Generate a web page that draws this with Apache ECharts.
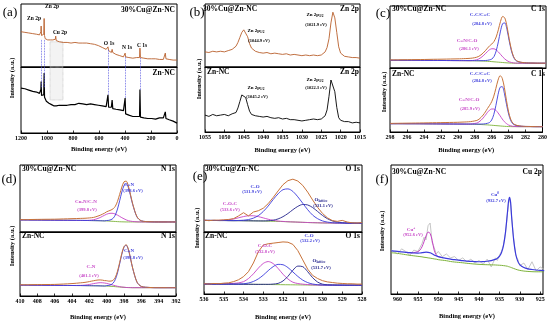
<!DOCTYPE html>
<html>
<head>
<meta charset="utf-8">
<script src="https://cdn.jsdelivr.net/npm/echarts/dist/echarts.min.js"></script>
<style>
  html, body { margin: 0; padding: 0; background: #fff; }
  #xps { width: 550px; height: 322px; }
</style>
</head>
<body>
<div id="xps"></div>
<script>
// ---- (a) survey ----
const aE = [1200,1185,1170,1155,1140,1125,1110,1095,1080,1068,
  1058,1050,1047,1045,1042,1036,1030,1025,1022,1019,
  1014,1005,995,985,975,965,955,950,945,936,
  933,929,920,905,890,875,860,845,830,815,
  800,785,770,755,740,725,710,695,680,665,
  650,635,620,605,590,575,560,545,536,531,
  526,515,505,499,494,485,470,455,440,425,
  412,403,399,395,385,370,355,340,325,310,
  296,288,285,281,270,255,240,225,210,195,
  180,165,150,135,120,105,95,90,85,75,
  60,45,30,15,0];
const aCuZn = [56,57,55,56,54,55,53,54,52,53,
  51,52,56,65,50,51,49,52,77,50,
  45,44,43,44,43,42,43,45,42,44,
  49,42,41,40,40,39,40,39,39,38,
  38,39,38,38,37,38,37,38,38,37,
  36,36,35,34,33,31,30,28,27,32,
  26,24,23,28,23,21,20,19,18,17,
  16,17,22,16,15,15,15,14,15,15,
  14,15,30,15,14,14,14,13,14,13,
  13,13,13,12,13,12,13,22,13,12,
  12,11,11,11,11];
const aZn = [68,66,67,64,65,62,63,61,62,59,
  60,58,66,78,57,55,56,58,91,54,
  52,48,47,45,44,43,41,43,41,42,
  40,41,40,42,41,42,43,42,44,43,
  45,43,44,45,43,44,42,43,45,44,
  42,43,41,42,40,41,39,40,39,58,
  39,38,39,50,37,37,36,35,35,33,
  34,32,53,29,27,27,26,25,26,25,
  24,25,66,24,24,23,24,22,23,22,
  22,21,22,23,22,23,24,32,22,21,
  20,19,18,17,15];
const aGuideE = [1045, 1022, 531, 400, 285];
const aGuideTop = [43, 43, 27, 16, 14];
const aGuideBot = [68, 68, 58, 53, 65];
const aBand = [977, 877];

// ---- (b) Zn 2p ----
const bE = [1055,1054,1053,1052,1051,1050,1049,1048,1047,1046.5,
  1046,1045.5,1045,1044.5,1044,1043.5,1043,1042,1041,1040,
  1039,1038,1037,1036,1035,1034,1033,1032,1031,1030,
  1029,1028,1027,1026,1025,1024.5,1024,1023.5,1023,1022.5,
  1022,1021.5,1021,1020.5,1020,1019.5,1019,1018,1017,1016,1015];
const bCuZn = [24,23,25,24,25,24,26,28,33,39,
  47,55,59,56,48,37,30,25,23,22,
  23,21,22,21,20,21,19,20,19,18,
  19,18,19,18,19,21,24,31,45,70,
  87,78,55,32,22,19,17,16,15,15,14];
const bZn = [26,24,27,25,26,27,25,28,30,37,
  47,57,60,53,42,32,27,25,24,23,
  24,22,21,22,20,21,19,19,18,17,
  18,19,20,19,20,22,25,34,55,80,
  80,62,38,22,18,17,16,16,14,15,14];

// ---- (c) C 1s ----
const cE = [298,297,296,295,294,293,292,291,290,289.5,289,288.5,288,287.75,287.5,287.25,287,286.75,286.5,286.25,
  286,285.75,285.5,285.25,285,284.75,284.5,284.25,284,283.75,283.5,283.25,283,282.5,282,281.5,281,280.5,280];
const cCuBase = [13.0,13.0,12.9,12.9,12.8,12.7,12.6,12.5,12.4,12.3,12.2,12.1,12.0,11.9,11.8,11.6,11.4,11.2,11.0,10.7,
  10.4,10.1,9.8,9.5,9.2,8.9,8.6,8.4,8.2,8.1,8.0,8.0,8.0,8.0,8.0,8.0,8.0,8.0,8.0];
const cCuCC = [13.0,13.0,12.9,12.9,12.8,12.7,12.6,12.5,12.4,12.4,12.4,12.4,12.3,12.3,12.3,12.4,12.5,12.9,13.7,15.1,
  19.2,28.5,43.8,61.9,74.5,75.5,64.4,45.8,29.3,18.3,12.8,10.7,9.7,8.8,8.4,8.3,8.0,8.0,8.0];
const cCuCN = [13.0,13.0,12.9,12.9,12.8,12.7,12.6,12.5,12.4,12.4,12.3,12.5,13.8,15.2,17.5,20.4,23.9,27.7,30.8,32.3,
  32.2,30.3,27.0,22.9,18.7,15.1,12.3,10.4,9.3,8.5,8.2,8.1,8.0,8.0,8.0,8.0,8.0,8.0,8.0];
const cCuEnv = [13.5,13.7,13.9,14.1,14.3,14.6,14.8,15.1,15.4,15.7,16.0,16.6,18.1,19.6,22.0,25.2,29.0,33.3,37.3,40.3,
  44.5,52.0,64.1,78.1,86.5,83.8,69.8,49.1,31.4,19.4,13.5,11.2,10.0,8.9,8.4,8.3,8.1,8.0,8.0];
const cZnBase = [14.0,14.0,13.9,13.9,13.8,13.7,13.6,13.5,13.4,13.3,13.2,13.1,13.0,12.9,12.8,12.6,12.4,12.2,12.0,11.7,
  11.4,11.1,10.8,10.5,10.2,9.9,9.6,9.4,9.2,9.1,9.0,9.0,9.0,9.0,9.0,9.0,9.0,9.0,9.0];
const cZnCC = [14.0,14.0,13.9,13.9,13.8,13.7,13.6,13.5,13.4,13.4,13.4,13.4,13.3,13.3,13.3,13.4,13.5,13.9,14.7,16.1,
  20.2,29.5,44.8,62.9,75.5,76.5,65.4,46.8,30.3,19.3,13.8,11.7,10.7,9.8,9.4,9.3,9.0,9.0,9.0];
const cZnCN = [14.0,14.0,13.9,13.9,13.8,13.7,13.6,13.5,13.4,13.4,13.3,13.4,14.4,15.1,17.0,19.9,23.6,28.2,33.0,36.9,
  38.8,38.8,36.6,32.3,27.3,21.9,17.4,14.2,11.7,10.5,9.6,9.3,9.1,9.0,9.0,9.0,9.0,9.0,9.0];
const cZnEnv = [14.5,14.7,14.9,15.1,15.3,15.6,15.8,16.1,16.4,16.7,17.0,17.5,18.7,19.5,21.5,24.7,28.7,33.8,39.5,44.9,
  51.1,60.5,73.7,87.5,95.1,90.6,74.9,52.9,33.8,21.4,14.9,12.4,11.1,9.9,9.4,9.3,9.1,9.0,9.0];

// ---- (d) N 1s ----
const dE = [410,409,408,407,406,405,404,403,402.5,402,401.5,401,400.75,400.5,400.25,400,399.75,399.5,399.25,399,
  398.75,398.5,398.25,398,397.75,397.5,397.25,397,396.5,396,395,394,393,392];
const dCuBase = [18,17.9,17.8,17.7,17.6,17.5,17.4,17.3,17.2,17.1,17.0,16.9,16.8,16.7,16.6,16.5,16.3,16.1,15.9,15.7,
  15.5,15.3,15.2,15.1,15.0,15.0,15.0,15.0,15.0,15.0,15.0,15.0,15.0,15.0];
const dCuCN = [18,17.9,17.8,17.7,17.6,17.5,17.4,17.3,17.2,17.1,17.0,16.9,16.8,16.7,16.6,17.1,17.4,18.4,20.5,25.4,
  34.3,46.7,59.7,69.3,72.0,66.3,54.3,41.2,22.4,16.7,15.3,15.0,15.0,15.0];
const dCuCuN = [18,17.9,17.8,17.7,17.6,17.5,17.4,17.3,17.3,17.5,18.3,20.3,21.6,23.3,25.0,26.6,27.6,28.0,27.8,26.7,
  25.2,23.3,21.4,19.7,18.1,16.9,16.2,15.7,15.2,15.0,15.0,15.0,15.0,15.0];
const dCuEnv = [18.5,18.6,18.8,19.0,19.1,19.5,19.9,20.3,20.5,21.0,21.8,23.8,25.0,26.5,28.1,30.2,31.5,32.8,34.7,38.4,
  45.8,56.2,67.1,74.9,75.9,68.8,55.9,42.2,22.7,16.7,15.3,15.0,15.0,15.0];
const dZnBase = [17,16.9,16.8,16.7,16.6,16.5,16.4,16.3,16.2,16.1,16.0,15.9,15.8,15.7,15.6,15.5,15.3,15.1,14.9,14.6,
  14.3,14.0,13.7,13.5,13.3,13.2,13.1,13.0,13.0,13.0,13.0,13.0,13.0,13.0];
const dZnCN = [17,16.9,16.8,16.7,16.6,16.5,16.4,16.3,16.2,16.1,16.0,15.9,15.8,15.7,15.6,16.2,16.6,17.7,20.2,25.8,
  36.1,50.3,65.2,76.2,79.3,72.6,58.6,43.4,21.6,15.0,13.3,13.0,13.0,13.0];
const dZnCN2 = [17,16.9,16.8,16.7,16.6,16.5,16.4,16.6,17.0,18.0,19.4,20.5,20.8,20.7,20.3,19.7,18.8,17.9,16.9,16.0,
  15.2,14.6,14.0,13.7,13.3,13.2,13.1,13.0,13.0,13.0,13.0,13.0,13.0,13.0];
const dZnEnv = [17.5,17.6,17.8,17.9,18.1,18.7,19.4,20.6,21.3,22.5,23.9,25.0,25.1,24.8,24.1,23.9,23.2,23.3,24.6,29.2,
  38.8,52.4,66.7,77.4,80.1,73.2,59.0,43.7,21.7,15.0,13.3,13.0,13.0,13.0];

// ---- (e) O 1s ----
const eE = [536,535.75,535.5,535.25,535,534.75,534.5,534.25,534,533.75,533.5,533.25,533,532.75,532.5,532.25,532,
  531.75,531.5,531.25,531,530.75,530.5,530.25,530,529.75,529.5,529.25,529,528.75,528.5,528.25,528];
const eCuBase = [18.0,18.0,17.9,17.8,17.8,17.7,17.6,17.6,17.5,17.4,17.3,17.2,17.0,16.8,16.6,16.4,16.2,
  15.9,15.6,15.3,15.0,14.7,14.5,14.3,14.1,14.0,13.9,13.8,13.8,13.7,13.7,13.6,13.6];
const eCuCO = [18.0,18.0,17.9,17.8,17.8,17.7,17.7,17.9,18.3,19.3,21.5,25.4,31.8,40.3,50.3,59.2,65.7,
  66.9,63.0,54.6,44.6,34.6,26.2,20.7,17.2,15.4,14.4,14.0,13.9,13.7,13.7,13.6,13.6];
const eCuOL = [18.0,18.0,17.9,17.8,17.8,17.7,17.6,17.6,17.5,17.4,17.3,17.2,17.2,17.5,18.3,20.3,23.8,
  28.7,34.6,39.8,42.7,42.0,38.0,31.9,25.7,20.6,17.2,15.3,14.4,13.9,13.8,13.6,13.6];
const eCuCOC = [18.0,18.0,17.9,18.0,18.3,19.0,20.2,22.1,23.9,25.2,25.2,23.9,21.9,19.8,18.1,17.0,16.4,
  15.9,15.6,15.3,15.0,14.7,14.5,14.3,14.1,14.0,13.9,13.8,13.8,13.7,13.7,13.6,13.6];
const eCuEnv = [18.5,17.6,18.4,18.4,18.9,19.5,20.8,25.0,30.0,25.0,31.0,33.0,36.9,44.0,53.5,63.7,73.5,
  79.7,82.0,79.1,72.3,61.9,49.7,38.3,28.8,22.0,17.7,16.5,18.0,15.5,14.2,13.9,14.5];
const eZnBase = [16.0,16.0,16.0,15.9,15.9,15.9,15.8,15.8,15.7,15.7,15.6,15.5,15.4,15.3,15.2,15.1,15.0,
  14.9,14.8,14.7,14.6,14.5,14.4,14.4,14.3,14.3,14.3,14.2,14.2,14.2,14.2,14.2,14.2];
const eZnCOC = [16.2,16.2,16.3,16.3,16.5,16.6,17.1,18.0,19.9,24.9,32.5,41.7,49.3,52.3,49.1,41.3,31.9,
  24.2,19.0,16.9,15.9,15.2,14.8,14.5,14.4,14.3,14.3,14.2,14.2,14.2,14.2,14.2,14.2];
const eZnCO = [16.0,16.0,16.0,15.9,15.9,15.9,15.9,16.0,16.5,17.7,20.2,24.4,30.4,37.7,44.1,47.8,47.2,
  42.6,35.6,28.4,22.4,18.4,16.1,15.0,14.5,14.3,14.3,14.2,14.2,14.2,14.2,14.2,14.2];
const eZnOL = [16.0,16.0,16.0,15.9,15.9,15.9,15.8,15.8,15.7,15.7,15.6,15.5,15.6,15.6,16.0,17.1,21.0,
  28.5,38.3,45.0,44.1,36.0,26.3,19.3,15.9,14.9,14.6,14.4,14.3,14.2,14.2,14.2,14.2];
const eZnEnv = [16.5,16.0,17.0,16.5,17.5,18.0,20.0,23.0,28.0,36.0,50.0,68.0,79.0,81.0,82.0,83.0,84.0,
  83.5,80.0,70.0,55.0,40.0,30.0,25.0,21.5,19.5,18.5,17.5,17.0,16.5,16.5,16.0,16.0];

// ---- (f) Cu 2p ----
const fE = [961.5,960,959,958,957,956,955,954.5,954,953.5,953,952.5,952,951.5,951,950.5,950,949,948,947,
  946,945,944,943,942,941,940,939,938,937,936,935.5,935,934.5,934,933.5,933,932.75,932.5,932.25,
  932,931.5,931,930.5,930,929,928,927,926,925,924];
const fBase = [32,31.5,31,30.5,30,29.6,29.2,29,28.8,28.5,28.3,28,27.8,27.5,27.2,27,26.6,26.2,25.8,25.2,
  24.8,24.5,24.2,23.8,23.5,23.2,23,22.8,22.7,22.6,22.5,22.4,22.3,22.2,22,21.8,21.5,21.2,21,20.7,
  20.4,19.8,19.2,18.7,18.3,17.8,17.5,17.3,17.2,17.2,17.2];
const fCu0 = [33.5,33,32.6,32.3,32,31.8,31.7,31.8,32,32.2,32.4,32.3,32,31.2,30.3,29.6,29,28.2,27.6,27,
  26.6,26.2,25.8,25.5,25.3,25.1,25,25.1,25.4,25.9,26.8,27.7,29.2,32,37.5,48,64,72,75,71,
  60,42,31,25.5,22.8,20.5,19.5,19,18.6,18.3,18.1];
const fRaw = [34,31,35,33,30,34,33,36,39,44,42,53,55,40,36,31,33,29,31,28,
  29,26,28,25,27,24,26,23,27,21,28,26,30,33,38,47,63,70,74,70,
  59,43,30,27,22,24,19,25,18,21,19];
const fPlusE = [958,957,956,955,954.5,954,953.5,953,952.5,952,951.5,951,950.5,950,949];
const fPlus = [32.3,32,32.1,32.8,34,36.5,40.5,45,48,47,41.5,34,30.2,29,28.2];
const fTicks = [925,930,935,940,945,950,955,960];

const SERIF = '"Liberation Serif","Times New Roman","DejaVu Serif",serif';
const ORANGE = '#c8733a', BROWN = '#b9602c', BLUE = '#3b3bdc', NAVY = '#23238c',
      MAG = '#c643c6', GREEN = '#7db23a', GREY = '#b8b8b8';

function pairs(xs, ys) { return xs.map((x, i) => [x, ys[i]]); }

function line(idx, xs, ys, color, width, smooth, extra) {
  return Object.assign({
    type: 'line', xAxisIndex: idx, yAxisIndex: idx,
    data: pairs(xs, ys), showSymbol: false, symbol: 'none',
    smooth: smooth ? 0.3 : false, silent: true, animation: false,
    lineStyle: { color: color, width: width }, itemStyle: { color: color }
  }, extra || {});
}

const grids = [
  { left: 21, top: 4, width: 156, height: 63 },
  { left: 21, top: 67, width: 156, height: 66 },
  { left: 205, top: 4, width: 155, height: 63 },
  { left: 205, top: 67, width: 155, height: 65 },
  { left: 390, top: 6, width: 156, height: 62 },
  { left: 390, top: 68, width: 156, height: 64 },
  { left: 20, top: 165, width: 156, height: 67 },
  { left: 20, top: 232, width: 156, height: 64 },
  { left: 204, top: 165, width: 158, height: 67 },
  { left: 204, top: 232, width: 158, height: 63 },
  { left: 391, top: 165, width: 152, height: 129 }
].map(g => Object.assign({ show: true, borderColor: '#000', borderWidth: 1 }, g));

function xa(i, min, max, interval, labels, gap) {
  return {
    gridIndex: i, type: 'value', inverse: true, min: min, max: max, interval: interval,
    splitLine: { show: false },
    axisLine: { show: true, onZero: false, lineStyle: { color: '#000', width: 1 } },
    axisTick: { show: labels, inside: true, length: 2.5, lineStyle: { color: '#000', width: 0.8 } },
    axisLabel: { show: labels, fontSize: 6, fontWeight: 'bold', fontFamily: SERIF, color: '#000', margin: 2.5,
      formatter: v => String(v) },
    name: labels ? 'Binding energy (eV)' : '', nameLocation: 'middle', nameGap: gap,
    nameTextStyle: { fontSize: 6.5, fontWeight: 'bold', fontFamily: SERIF, color: '#000' }
  };
}
function ya(i, max) { return { gridIndex: i, type: 'value', min: 0, max: max, show: false }; }

const fAxis = xa(10, 924.3, 961.6, undefined, true, 19);
fAxis.axisLabel.customValues = fTicks;
fAxis.axisTick.customValues = fTicks;

const xAxes = [
  xa(0, 0, 1200, 200, false), xa(1, 0, 1200, 200, true, 13),
  xa(2, 1015, 1055, 5, false), xa(3, 1015, 1055, 5, true, 15),
  xa(4, 280, 298, 2, false), xa(5, 280, 298, 2, true, 15),
  xa(6, 392, 410, 2, false), xa(7, 392, 410, 2, true, 18),
  xa(8, 528, 536, 1, false), xa(9, 528, 536, 1, true, 20),
  fAxis
];
const yAxes = [ya(0, 100), ya(1, 100), ya(2, 100), ya(3, 100), ya(4, 104), ya(5, 108),
  ya(6, 100), ya(7, 100), ya(8, 104), ya(9, 100), ya(10, 100)];

const guideStyle = { type: 'dotted', color: '#5050e0', width: 0.8 };
const bandStyle = { color: 'rgba(200,200,200,0.22)', borderColor: '#aaa', borderWidth: 0.6, borderType: 'dotted' };

const series = [
  line(0, aE, aCuZn, BROWN, 0.9, false, {
    markLine: { silent: true, animation: false, symbol: ['none', 'none'], label: { show: false }, lineStyle: guideStyle,
      data: aGuideE.map((e, i) => [{ coord: [e, aGuideTop[i]] }, { coord: [e, 0] }]) },
    markArea: { silent: true, itemStyle: bandStyle, data: [[{ coord: [aBand[0], 40] }, { coord: [aBand[1], 0] }]] }
  }),
  line(1, aE, aZn, '#000', 1.2, false, {
    markLine: { silent: true, animation: false, symbol: ['none', 'none'], label: { show: false }, lineStyle: guideStyle,
      data: aGuideE.map((e, i) => [{ coord: [e, 100] }, { coord: [e, aGuideBot[i]] }]) },
    markArea: { silent: true, itemStyle: bandStyle, data: [[{ coord: [aBand[0], 100] }, { coord: [aBand[1], 50] }]] }
  }),
  line(2, bE, bCuZn, BROWN, 0.9),
  line(3, bE, bZn, '#000', 0.9),

  line(4, cE, cCuBase, GREEN, 0.9, true),
  line(4, cE, cCuCN, MAG, 0.9, true),
  line(4, cE, cCuCC, BLUE, 0.9, true),
  line(4, cE, cCuEnv, ORANGE, 1, true),
  line(5, cE, cZnBase, GREEN, 0.9, true),
  line(5, cE, cZnCN, MAG, 0.9, true),
  line(5, cE, cZnCC, BLUE, 0.9, true),
  line(5, cE, cZnEnv, ORANGE, 1, true),

  line(6, dE, dCuBase, GREEN, 0.9, true),
  line(6, dE, dCuCuN, MAG, 0.9, true),
  line(6, dE, dCuCN, BLUE, 0.9, true),
  line(6, dE, dCuEnv, ORANGE, 1, true),
  line(7, dE, dZnBase, GREEN, 0.9, true),
  line(7, dE, dZnCN2, MAG, 0.9, true),
  line(7, dE, dZnCN, BLUE, 0.9, true),
  line(7, dE, dZnEnv, ORANGE, 1, true),

  line(8, eE, eCuBase, GREEN, 0.9, true),
  line(8, eE, eCuCOC, MAG, 0.9, true),
  line(8, eE, eCuOL, NAVY, 0.9, true),
  line(8, eE, eCuCO, BLUE, 0.9, true),
  line(8, eE, eCuEnv, ORANGE, 1, false),
  line(9, eE, eZnBase, GREEN, 0.9, true),
  line(9, eE, eZnCOC, MAG, 0.9, true),
  line(9, eE, eZnOL, NAVY, 0.9, true),
  line(9, eE, eZnCO, BLUE, 0.9, true),
  line(9, eE, eZnEnv, ORANGE, 1, false),

  line(10, fE, fRaw, GREY, 0.8, false),
  line(10, fE, fBase, GREEN, 1, true),
  line(10, fPlusE, fPlus, MAG, 1, true),
  line(10, fE, fCu0, BLUE, 1.2, true)
];

// text helpers
function txt(x, y, text, size, color, align, weight) {
  return { type: 'text', x: x, y: y, silent: true, z: 50,
    style: { text: text, fontSize: size, fontFamily: SERIF, fontWeight: weight || 'bold',
      fill: color || '#000', align: align || 'center', verticalAlign: 'middle' } };
}
function rich(x, y, main, sub, pos, size, color) {
  const s = size || 5;
  return { type: 'text', x: x, y: y, silent: true, z: 50,
    style: { text: '{m|' + main + '}{s|' + sub + '}', align: 'center', verticalAlign: 'middle',
      rich: {
        m: { fontSize: s, fontFamily: SERIF, fontWeight: 'bold', fill: color || '#000', lineHeight: s + 2 },
        s: { fontSize: s * 0.7, fontFamily: SERIF, fontWeight: 'bold', fill: color || '#000',
             verticalAlign: pos, lineHeight: s + 2 }
      } } };
}
function ytitle(x, y) {
  return { type: 'text', x: x, y: y, rotation: Math.PI / 2, silent: true, z: 50,
    style: { text: 'Intensity (a.u.)', fontSize: 6.5, fontFamily: SERIF, fontWeight: 'bold',
      fill: '#000', align: 'center', verticalAlign: 'middle' } };
}

const graphics = [
  txt(10, 13, '(a)', 13, '#000', 'center', 'normal'),
  txt(197, 13, '(b)', 13, '#000', 'center', 'normal'),
  txt(383, 14, '(c)', 13, '#000', 'center', 'normal'),
  txt(9, 180, '(d)', 13, '#000', 'center', 'normal'),
  txt(200, 177, '(e)', 13, '#000', 'center', 'normal'),
  txt(382, 180, '(f)', 13, '#000', 'center', 'normal'),

  ytitle(12, 78), ytitle(199, 79), ytitle(384, 92),
  ytitle(12, 246), ytitle(197, 228), ytitle(382, 231),

  // (a)
  txt(175, 10, '30%Cu@Zn-NC', 7.5, '#000', 'right'),
  txt(175, 73, 'Zn-NC', 7.5, '#000', 'right'),
  txt(34, 19, 'Zn 2p', 5.5), txt(52, 7, 'Zn 2p', 5.5), txt(60, 33, 'Cu 2p', 5.5),
  txt(109, 44, 'O 1s', 5.5), txt(127, 48, 'N 1s', 5.5), txt(142, 46, 'C 1s', 5.5),

  // (b)
  txt(203, 9, '30%Cu@Zn-NC', 7.5, '#000', 'left'),
  txt(359, 9, 'Zn 2p', 7.5, '#000', 'right'),
  txt(207, 72, 'Zn-NC', 7.5, '#000', 'left'),
  txt(359, 72, 'Zn 2p', 7.5, '#000', 'right'),
  rich(315, 15, 'Zn 2p', '3/2', 'bottom'), txt(316, 24.5, '(1021.9 eV)', 4.5),
  rich(256, 30.5, 'Zn 2p', '1/2', 'bottom'), txt(259, 40.5, '(1044.9 eV)', 4.5),
  rich(256, 87.5, 'Zn 2p', '1/2', 'bottom'), txt(257, 97, '(1045.2 eV)', 4.5),
  rich(315, 79.5, 'Zn 2p', '3/2', 'bottom'), txt(316, 88, '(1022.3 eV)', 4.5),

  // (c)
  txt(392, 9, '30%Cu@Zn-NC', 7.5, '#000', 'left'),
  txt(545, 9, 'C 1s', 7.5, '#000', 'right'),
  txt(392, 74, 'Zn-NC', 7.5, '#000', 'left'),
  txt(545, 74, 'C 1s', 7.5, '#000', 'right'),
  txt(480, 15, 'C-C/C=C', 5, BLUE), txt(482, 24, '(284.8 eV)', 4.5, BLUE),
  txt(467, 40.5, 'C=N/C-O', 5, MAG), txt(469, 49, '(286.1 eV)', 4.5, MAG),
  txt(480, 74, 'C-C/C=C', 5, BLUE), txt(482, 81, '(284.8 eV)', 4.5, BLUE),
  txt(469, 100, 'C=N/C-O', 5, MAG), txt(470, 109, '(285.9 eV)', 4.5, MAG),

  // (d)
  txt(22, 169, '30%Cu@Zn-NC', 7.5, '#000', 'left'),
  txt(175, 169, 'N 1s', 7.5, '#000', 'right'),
  txt(22, 236, 'Zn-NC', 7.5, '#000', 'left'),
  txt(175, 236, 'N 1s', 7.5, '#000', 'right'),
  txt(129, 185, 'C=N', 5, BLUE), txt(133, 191, '(398.6 eV)', 4.5, BLUE),
  txt(86, 202, 'Cu-N/C-N', 5, MAG), txt(87, 210, '(399.8 eV)', 4.5, MAG),
  txt(129, 251, 'C=N', 5, BLUE), txt(133, 258, '(398.8 eV)', 4.5, BLUE),
  txt(91, 267, 'C-N', 5, MAG), txt(89, 276, '(401.1 eV)', 4.5, MAG),

  // (e)
  txt(205, 169, '30%Cu@Zn-NC', 7.5, '#000', 'left'),
  txt(360, 169, 'O 1s', 7.5, '#000', 'right'),
  txt(205, 236, 'Zn-NC', 7.5, '#000', 'left'),
  txt(360, 236, 'O 1s', 7.5, '#000', 'right'),
  txt(255, 186.5, 'C-O', 5, BLUE), txt(252, 192, '(531.9 eV)', 4.5, BLUE),
  rich(321, 200, 'O', 'lattice', 'bottom', 5, NAVY), txt(323, 205.5, '(531.1 eV)', 4.5, NAVY),
  txt(230, 204, 'C-O-C', 5, MAG), txt(230, 210, '(533.6 eV)', 4.5, MAG),
  txt(265, 246, 'C-O-C', 5, MAG), txt(265, 251.5, '(532.8 eV)', 4.5, MAG),
  txt(309, 236, 'C-O', 5, BLUE), txt(310, 240.5, '(532.2 eV)', 4.5, BLUE),
  rich(319, 261, 'O', 'lattice', 'bottom', 5, NAVY), txt(321, 268, '(531.7 eV)', 4.5, NAVY),

  // (f)
  txt(392, 172, '30%Cu@Zn-NC', 7.5, '#000', 'left'),
  txt(542, 172, 'Cu 2p', 7.5, '#000', 'right'),
  rich(411, 229.5, 'Cu', '+', 'top', 5, MAG), txt(413, 235, '(952.6 eV)', 4.5, MAG),
  rich(495, 195, 'Cu', '0', 'top', 5, BLUE), txt(496, 201, '(932.7 eV)', 4.5, BLUE)
];

const chart = echarts.init(document.getElementById('xps'), null, { renderer: 'canvas' });
chart.setOption({
  animation: false,
  backgroundColor: '#fff',
  grid: grids,
  xAxis: xAxes,
  yAxis: yAxes,
  series: series,
  graphic: graphics
});
</script>
</body>
</html>
